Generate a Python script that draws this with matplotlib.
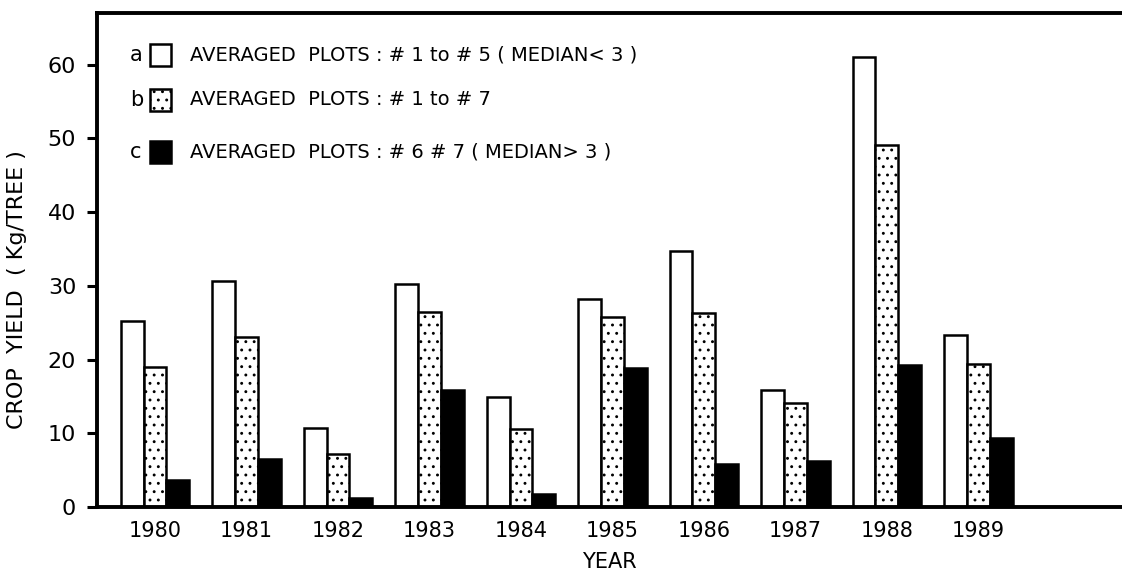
import matplotlib.pyplot as plt
import matplotlib.patches as mpatches
import numpy as np

# --- Dane ---
lata = ["1980", "1981", "1982", "1983", "1984", "1985", "1986", "1987", "1988", "1989"]
plony_a = [25.2, 30.7, 10.7, 30.2, 14.9, 28.2, 34.7, 15.8, 61.0, 23.3]
plony_b = [19.0, 23.0, 7.2, 26.5, 10.6, 25.8, 26.3, 14.1, 49.1, 19.4]
plony_c = [3.6, 6.5, 1.2, 15.8, 1.7, 18.8, 5.8, 6.2, 19.3, 9.4]
opisy = [
    ("a", "AVERAGED  PLOTS : # 1 to # 5 ( MEDIAN< 3 )"),
    ("b", "AVERAGED  PLOTS : # 1 to # 7"),
    ("c", "AVERAGED  PLOTS : # 6 # 7 ( MEDIAN> 3 )"),
]

plt.rcParams['font.family'] = ['DejaVu Sans']
plt.rcParams['hatch.linewidth'] = 0.9

fig = plt.figure(figsize=(11.22, 5.83), dpi=100)
ax = fig.add_axes([0.0865, 0.1304, 0.9135, 0.8473])

x = np.arange(len(lata))
w = 0.25
styl = [dict(facecolor="white", hatch=None),
        dict(facecolor="white", hatch=".."),
        dict(facecolor="black", hatch=None)]
for i, dane in enumerate([plony_a, plony_b, plony_c]):
    ax.bar(x + (i - 1) * w, dane, width=w, edgecolor="black", linewidth=1.8,
           zorder=2, **styl[i])

ax.set_xlim(-0.634, 10.57)
ax.set_ylim(0, 67)
ax.set_yticks(range(0, 61, 10))
ax.set_xticks(x)
ax.set_xticklabels(lata, fontsize=15)
ax.tick_params(axis="y", labelsize=16, direction="out", length=7, width=2.2, pad=8)
ax.tick_params(axis="x", length=0, pad=10)
ax.spines["right"].set_visible(False)
for s in ["left", "top", "bottom"]:
    ax.spines[s].set_linewidth(2.8)

ax.set_xlabel("YEAR", fontsize=15, labelpad=8)
ax.set_ylabel("CROP  YIELD  ( Kg/TREE )", fontsize=16, labelpad=14)
ax.yaxis.set_label_coords(-0.068, 0.44)

# --- Legenda ---
wiersze_y = [0.915, 0.824, 0.719]
for (litera, tekst), yy, st in zip(opisy, wiersze_y, styl):
    ax.text(0.032, yy, litera, transform=ax.transAxes, fontsize=15,
            ha="left", va="center")
    ax.add_patch(mpatches.Rectangle((0.052, yy - 0.022), 0.02, 0.044,
                                    transform=ax.transAxes, edgecolor="black",
                                    linewidth=1.8, zorder=3, **st))
    ax.text(0.091, yy, tekst, transform=ax.transAxes, fontsize=14,
            ha="left", va="center")

plt.savefig("out.png", dpi=100)
